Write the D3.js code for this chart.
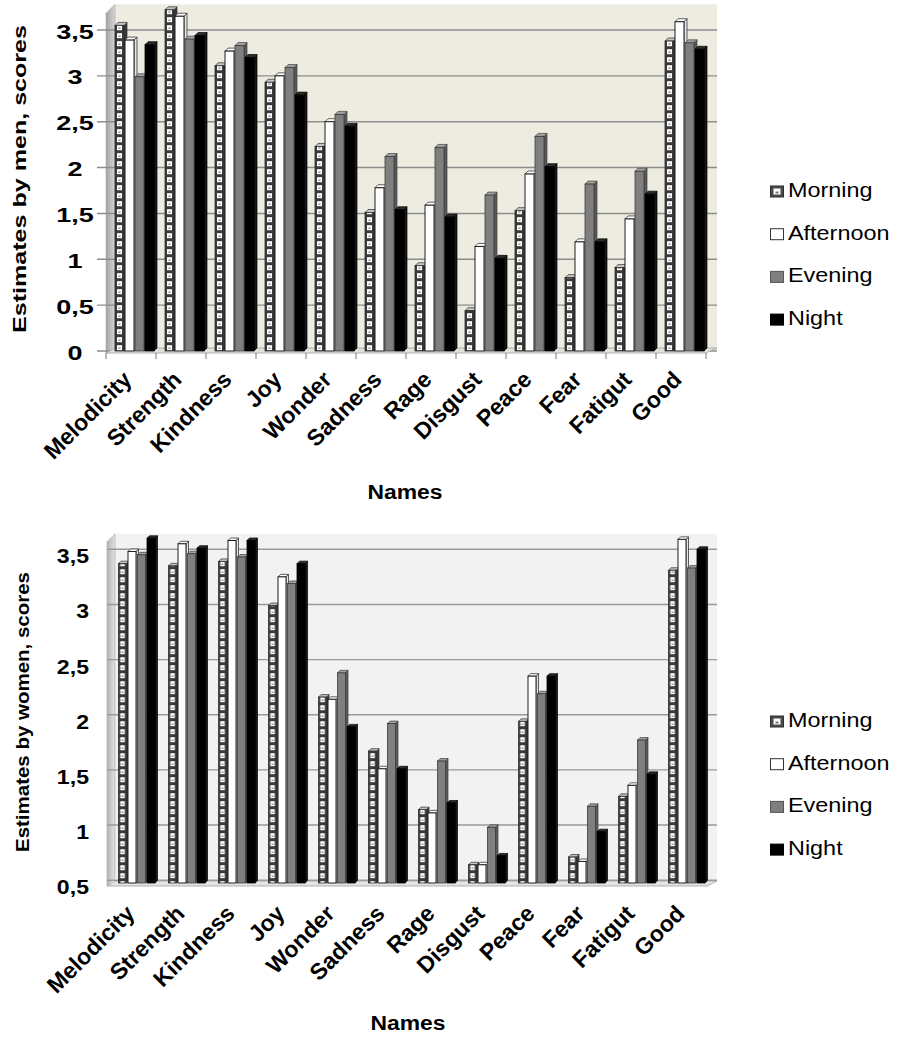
<!DOCTYPE html>
<html>
<head>
<meta charset="utf-8">
<script src="https://cdn.jsdelivr.net/npm/d3@7"></script>
<style>
  body { margin: 0; background: #fff; }
  svg { display: block; }
  text { font-family: Arial, "Liberation Sans", sans-serif; fill: #000; }
</style>
</head>
<body>
<svg id="chart" width="898" height="1037"></svg>
<script>
// ---- data ----
const categories = ["Melodicity", "Strength", "Kindness", "Joy", "Wonder", "Sadness",
                    "Rage", "Disgust", "Peace", "Fear", "Fatigut", "Good"];
const seriesNames = ["Morning", "Afternoon", "Evening", "Night"];

// estimates by men
const menMorning   = [3.55, 3.72, 3.11, 2.93, 2.23, 1.51, 0.93, 0.44, 1.53, 0.80, 0.91, 3.38];
const menAfternoon = [3.39, 3.65, 3.27, 3.00, 2.50, 1.78, 1.59, 1.14, 1.93, 1.19, 1.44, 3.59];
const menEvening   = [2.99, 3.40, 3.33, 3.09, 2.58, 2.12, 2.22, 1.70, 2.34, 1.82, 1.96, 3.36];
const menNight     = [3.34, 3.44, 3.20, 2.79, 2.45, 1.54, 1.46, 1.01, 2.01, 1.19, 1.71, 3.29];

// estimates by women
const womenMorning   = [3.37, 3.35, 3.39, 2.99, 2.16, 1.67, 1.14, 0.64, 1.94, 0.71, 1.26, 3.31];
const womenAfternoon = [3.48, 3.55, 3.58, 3.25, 2.14, 1.51, 1.11, 0.64, 2.35, 0.67, 1.36, 3.59];
const womenEvening   = [3.45, 3.46, 3.43, 3.19, 2.38, 1.92, 1.58, 0.98, 2.19, 1.17, 1.77, 3.33];
const womenNight     = [3.60, 3.51, 3.58, 3.37, 1.89, 1.51, 1.20, 0.72, 2.35, 0.94, 1.46, 3.50];

const menTicks = [0, 0.5, 1, 1.5, 2, 2.5, 3, 3.5];
const menTickLabels = ["0", "0,5", "1", "1,5", "2", "2,5", "3", "3,5"];
const womenTicks = [0.5, 1, 1.5, 2, 2.5, 3, 3.5];
const womenTickLabels = ["0,5", "1", "1,5", "2", "2,5", "3", "3,5"];

const xTitle = "Names";
const menTitle = "Estimates by men, scores";
const womenTitle = "Estimates by women, scores";

// ---- drawing ----
const svg = d3.select("#chart");
const defs = svg.append("defs");

// stretch a text element along its own baseline
function stretch(sel, opt) {
  sel.each(function () {
    const natural = this.getComputedTextLength();
    const len = opt.length != null ? opt.length : natural * opt.factor;
    d3.select(this).attr("textLength", len).attr("lengthAdjust", "spacingAndGlyphs");
  });
}

const seriesStyle = {
  Morning:   { front: null,      side: "#3a3a3a", top: "#c4c4c4", stroke: "#2e2e2e" },
  Afternoon: { front: "#ffffff", side: "#e6e6e6", top: "#ffffff", stroke: "#1e1e1e" },
  Evening:   { front: "#7f7f7f", side: "#5a5a5a", top: "#a3a3a3", stroke: "#3c3c3c" },
  Night:     { front: "#000000", side: "#161616", top: "#2c2c2c", stroke: "#000000" }
};

function drawChart(cfg) {
  const g = svg.append("g");
  const y = d3.scaleLinear().domain(cfg.yDomain).range(cfg.yRange);
  const x0 = d3.scaleBand().domain(categories).range(cfg.xRange);
  const x1 = d3.scaleBand().domain(seriesNames)
    .range([cfg.innerOffset, cfg.innerOffset + cfg.step * seriesNames.length]);

  const yMin = y(cfg.yDomain[0]);
  const wallTop = y(cfg.wallTopValue);
  const [xa, xb] = cfg.xRange;
  const dd = cfg.wallDepth;

  // morning hatch pattern
  const pid = "morning-" + cfg.id;
  const pat = defs.append("pattern").attr("id", pid)
    .attr("patternUnits", "userSpaceOnUse")
    .attr("width", cfg.faceW).attr("height", cfg.period);
  pat.append("rect").attr("width", cfg.faceW).attr("height", cfg.period).attr("fill", "#3a3a3a");
  pat.append("rect").attr("x", cfg.faceW * 0.22).attr("y", 1.2)
    .attr("width", cfg.faceW * 0.56).attr("height", cfg.period - 3).attr("fill", "#ffffff");
  pat.append("rect").attr("x", cfg.faceW * 0.38).attr("y", cfg.period * 0.42)
    .attr("width", cfg.faceW * 0.24).attr("height", 1.6).attr("fill", "#9a9a9a");

  // left wall gradient
  const gid = "wall-" + cfg.id;
  const grad = defs.append("linearGradient").attr("id", gid).attr("x1", 0).attr("x2", 1);
  grad.append("stop").attr("offset", 0).attr("stop-color", cfg.sideWallA);
  grad.append("stop").attr("offset", 1).attr("stop-color", cfg.sideWallB);

  // back wall
  g.append("rect")
    .attr("x", xa + dd).attr("y", wallTop)
    .attr("width", xb - xa + 2).attr("height", yMin - wallTop)
    .attr("fill", cfg.wallColor);

  // side wall
  g.append("polygon")
    .attr("points", [[xa, wallTop + dd], [xa + dd, wallTop], [xa + dd, yMin - 2], [xa, cfg.floorFront]].join(" "))
    .attr("fill", `url(#${gid})`).attr("stroke", "#a9a9a9").attr("stroke-width", 0.6);

  // gridlines
  g.append("g").selectAll("line").data(cfg.ticks).join("line")
    .attr("x1", cfg.gridStart).attr("x2", xb + dd + 2)
    .attr("y1", d => y(d)).attr("y2", d => y(d))
    .attr("stroke", cfg.gridColor).attr("stroke-width", 1.4);

  // floor
  g.append("polygon")
    .attr("points", [[xa, cfg.floorFront], [xa + dd, cfg.floorFront - 5], [xb + dd + 2, cfg.floorFront - 5], [xb, cfg.floorFront]].join(" "))
    .attr("fill", cfg.floorColor).attr("stroke", "#a0a0a0").attr("stroke-width", 0.8);

  // category ticks on the floor edge
  if (cfg.catTicks) {
    g.append("g").selectAll("line").data(d3.range(categories.length + 1)).join("line")
      .attr("x1", i => xa + i * x0.step()).attr("x2", i => xa + i * x0.step())
      .attr("y1", cfg.floorFront).attr("y2", cfg.floorFront + 6)
      .attr("stroke", "#8c8c8c").attr("stroke-width", 1.2);
  }

  // bars
  const values = cfg.values;
  const barBase = cfg.barBase;
  const d = cfg.depth;
  const w = cfg.faceW;
  const cells = [];
  categories.forEach((c, ci) => {
    seriesNames.forEach((s, si) => {
      cells.push({ c, s, v: values[si][ci] });
    });
  });
  const bars = g.append("g").selectAll("g").data(cells).join("g")
    .attr("transform", p => `translate(${x0(p.c) + x1(p.s)},0)`);
  bars.each(function (p) {
    const b = d3.select(this);
    const st = seriesStyle[p.s];
    const ty = y(p.v);
    b.append("polygon")
      .attr("points", [[w, ty], [w + d, ty - d], [w + d, barBase - d], [w, barBase]].join(" "))
      .attr("fill", st.side).attr("stroke", st.stroke).attr("stroke-width", 0.7);
    b.append("polygon")
      .attr("points", [[0, ty], [d, ty - d], [w + d, ty - d], [w, ty]].join(" "))
      .attr("fill", st.top).attr("stroke", st.stroke).attr("stroke-width", 0.7);
    b.append("rect")
      .attr("x", 0).attr("y", ty).attr("width", w).attr("height", barBase - ty)
      .attr("fill", p.s === "Morning" ? `url(#${pid})` : st.front)
      .attr("stroke", st.stroke).attr("stroke-width", p.s === "Afternoon" ? 1 : 0.8);
  });

  // y tick labels
  g.append("g").selectAll("text").data(cfg.ticks).join("text")
    .attr("x", cfg.tickX).attr("y", v => y(v) + cfg.tickDy)
    .attr("text-anchor", cfg.tickAnchor)
    .attr("font-size", cfg.tickSize).attr("font-weight", "bold")
    .text((v, i) => cfg.tickLabels[i])
    .call(stretch, { factor: cfg.tickStretch });

  // x tick labels
  g.append("g").selectAll("text").data(categories).join("text")
    .attr("transform", c => `translate(${x0(c) + x0.bandwidth() / 2 + cfg.labelDx},${cfg.floorFront + cfg.labelDy}) rotate(-45)`)
    .attr("text-anchor", "end")
    .attr("font-size", 23).attr("font-weight", "bold")
    .text(c => c);

  // axis titles
  g.append("text")
    .attr("transform", `translate(${cfg.titleX},${cfg.titleCy}) rotate(-90)`)
    .attr("text-anchor", "middle")
    .attr("font-size", cfg.titleSize).attr("font-weight", "bold")
    .text(cfg.title)
    .call(stretch, { length: cfg.titleLen });

  g.append("text")
    .attr("x", cfg.namesX).attr("y", cfg.namesY)
    .attr("text-anchor", "middle")
    .attr("font-size", 20).attr("font-weight", "bold")
    .text(xTitle)
    .call(stretch, { length: 75 });

  // legend
  const lg = g.append("g").selectAll("g").data(seriesNames).join("g")
    .attr("transform", (s, i) => `translate(770,${cfg.legendY + i * 42.7})`);
  lg.append("rect")
    .attr("x", 0.5).attr("y", -11).attr("width", 13).attr("height", 11)
    .attr("fill", s => s === "Morning" ? "#4a4a4a" : seriesStyle[s].front)
    .attr("stroke", s => s === "Afternoon" ? "#333" : (s === "Evening" ? "#555" : seriesStyle[s].stroke))
    .attr("stroke-width", 1);
  lg.filter(s => s === "Morning").append("rect")
    .attr("x", 3.5).attr("y", -8.5).attr("width", 7).attr("height", 6).attr("fill", "#fff");
  lg.filter(s => s === "Morning").append("rect")
    .attr("x", 5.5).attr("y", -5.5).attr("width", 3).attr("height", 2).attr("fill", "#777");
  lg.append("text")
    .attr("x", 18).attr("y", 0)
    .attr("font-size", 20)
    .text(s => s)
    .call(stretch, { factor: 1.17 });
}

drawChart({
  id: "men",
  values: [menMorning, menAfternoon, menEvening, menNight],
  yDomain: [0, 3.5], yRange: [351, 30], wallTopValue: 3.78,
  xRange: [106, 706], wallDepth: 9, innerOffset: 9, step: 10, faceW: 9, depth: 3, period: 8,
  barBase: 351, floorFront: 353,
  wallColor: "#eeece1", sideWallA: "#a4a4a4", sideWallB: "#d6d6d6", floorColor: "#e2e2dc",
  gridColor: "#8c8c8c", gridStart: 97, catTicks: true,
  ticks: menTicks, tickLabels: menTickLabels,
  tickX: 75, tickAnchor: "middle", tickSize: 20, tickDy: 8.5, tickStretch: 1.35,
  labelDx: 2, labelDy: 28,
  title: menTitle, titleX: 26, titleCy: 179, titleSize: 18, titleLen: 308,
  namesX: 405, namesY: 499, legendY: 197
});

drawChart({
  id: "women",
  values: [womenMorning, womenAfternoon, womenEvening, womenNight],
  yDomain: [0.5, 3.5], yRange: [880.2, 549.3], wallTopValue: 3.64,
  xRange: [107, 707], wallDepth: 8, innerOffset: 11.5, step: 9.5, faceW: 8, depth: 2.5, period: 8,
  barBase: 883, floorFront: 886,
  wallColor: "#f2f2f2", sideWallA: "#b4b4b4", sideWallB: "#e2e2e2", floorColor: "#e4e4e4",
  gridColor: "#999999", gridStart: 107, catTicks: false,
  ticks: womenTicks, tickLabels: womenTickLabels,
  tickX: 89, tickAnchor: "end", tickSize: 21, tickDy: 14, tickStretch: 1.1,
  labelDx: 4, labelDy: 29,
  title: womenTitle, titleX: 29, titleCy: 712, titleSize: 18, titleLen: 280,
  namesX: 408, namesY: 1030, legendY: 727
});
</script>
</body>
</html>
